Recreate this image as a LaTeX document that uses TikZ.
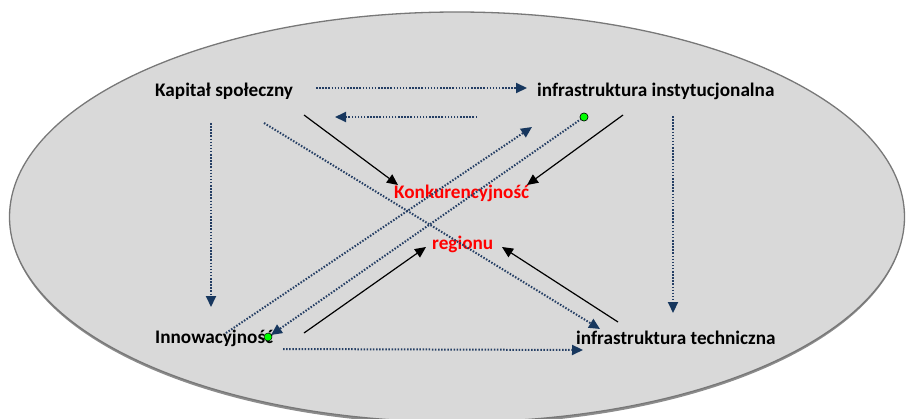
\documentclass[tikz,border=0pt]{standalone}
\usepackage{fontspec}
\setmainfont{Carlito}
\usetikzlibrary{arrows.meta}
\definecolor{ellfill}{RGB}{217,217,217}
\definecolor{elldraw}{RGB}{120,120,120}
\definecolor{dotblue}{RGB}{36,62,100}
\definecolor{headblue}{RGB}{23,55,94}
\definecolor{dotgreen}{RGB}{0,255,0}
\tikzset{
  lbl/.style={font=\fontsize{19.2}{21}\selectfont\bfseries, inner sep=0pt, anchor=base west},
  redlbl/.style={lbl, text=red},
  dotarrow/.style={draw=dotblue, line width=2pt, dash pattern=on 1.5pt off 1.6pt,
    -{Triangle[length=11pt,width=10pt,fill=headblue,color=headblue]}},
  solidarrow/.style={draw=black, line width=1.2pt, -{Triangle[length=11pt,width=10pt]}},
  gdot/.style={circle, fill=dotgreen, draw=black, line width=0.5pt, minimum size=8pt, inner sep=0pt}
}
\begin{document}
\begin{tikzpicture}[x=1pt,y=-1pt]
\useasboundingbox (0,0) rectangle (909,418);
% ellipse with faint shadow below
\fill[black!45] (457,219.5) ellipse [x radius=447, y radius=205];
\filldraw[fill=ellfill, draw=elldraw, line width=1.3pt] (457,217) ellipse [x radius=447.5, y radius=205];
% labels
\node[lbl] (kap) at (155,96.5) {Kapitał społeczny};
\node[lbl] (inst) at (537,96) {infrastruktura instytucjonalna};
\node[redlbl] (konk) at (394,198) {Konkurencyjność};
\node[redlbl] (reg) at (432,249) {regionu};
\node[lbl] (inno) at (155,343) {Innowacyjność};
\node[lbl] (tech) at (576,344) {infrastruktura techniczna};
% endpoints
\coordinate (a1s) at (316,88);  \coordinate (a1e) at (527,88);
\coordinate (a2s) at (477,117); \coordinate (a2e) at (335,117);
\coordinate (a3s) at (211,123); \coordinate (a3e) at (211,307);
\coordinate (a4s) at (673,116); \coordinate (a4e) at (673,313);
\coordinate (a5s) at (264,123); \coordinate (a5e) at (600,329);
\coordinate (a6s) at (226,333); \coordinate (a6e) at (532,127);
\coordinate (a7e) at (271,335);
\coordinate (a8s) at (283,349); \coordinate (a8e) at (583,350);
\coordinate (s1s) at (304,115); \coordinate (s1e) at (398,185);
\coordinate (s2s) at (623,115); \coordinate (s2e) at (527,185);
\coordinate (s3s) at (304,333); \coordinate (s3e) at (426,247);
\coordinate (s4s) at (618,322); \coordinate (s4e) at (502,247);
% dotted connectors
\draw[dotarrow] (a1s) -- (a1e);
\draw[dotarrow] (a2s) -- (a2e);
\draw[dotarrow] (a3s) -- (a3e);
\draw[dotarrow] (a4s) -- (a4e);
\draw[dotarrow] (a5s) -- (a5e);
\draw[dotarrow] (a6s) -- (a6e);
\node[gdot] (g1) at (584,117) {};
\draw[dotarrow] (g1.center) -- (a7e);
\draw[dotarrow] (a8s) -- (a8e);
% solid connectors
\draw[solidarrow] (s1s) -- (s1e);
\draw[solidarrow] (s2s) -- (s2e);
\draw[solidarrow] (s3s) -- (s3e);
\draw[solidarrow] (s4s) -- (s4e);
% green dots on top
\node[gdot] (g1b) at (584,117) {};
\node[gdot] (g2) at (268,337) {};
\end{tikzpicture}
\end{document}
